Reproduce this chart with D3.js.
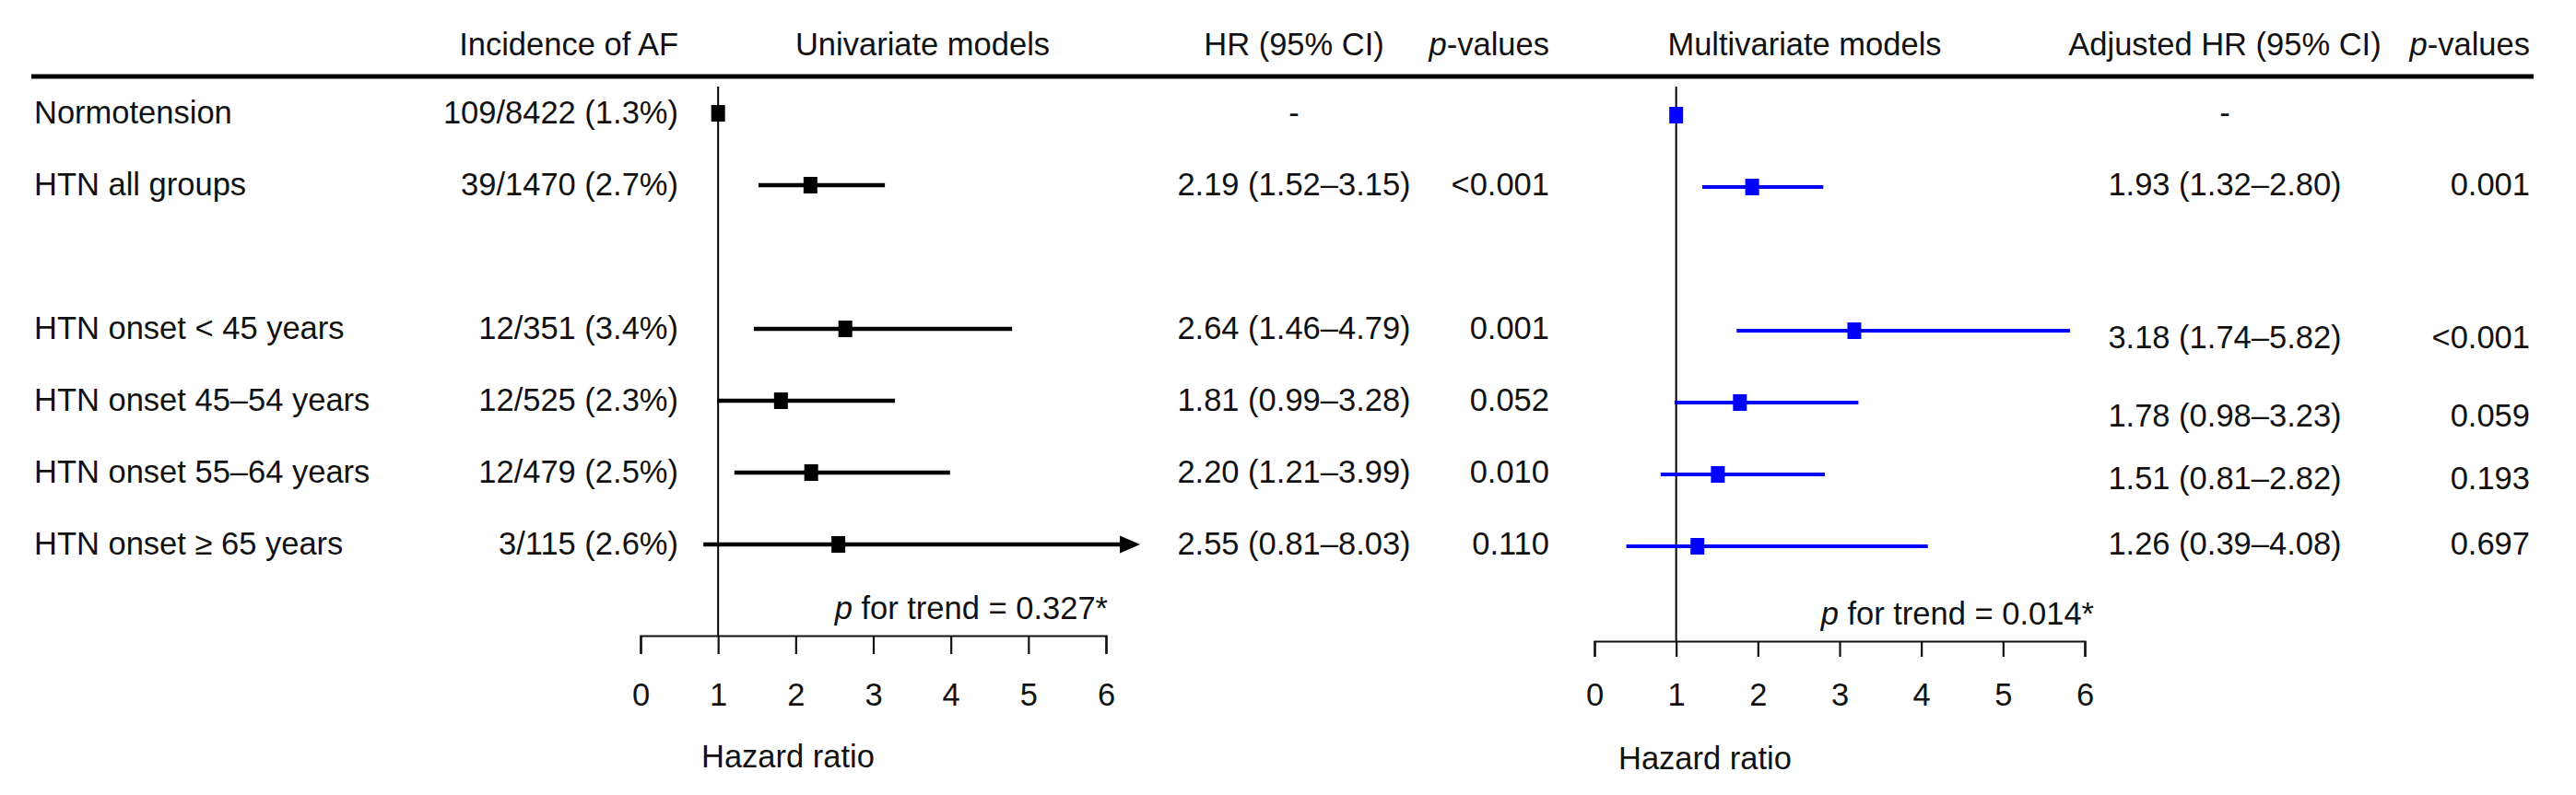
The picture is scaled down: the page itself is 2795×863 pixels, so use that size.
<!DOCTYPE html>
<html>
<head>
<meta charset="utf-8">
<script src="https://cdn.jsdelivr.net/npm/d3@7"></script>
<style>
  html, body { margin: 0; padding: 0; background: #fff; }
  text { font-family: "Liberation Sans", Arial, sans-serif; fill: #111; }
</style>
</head>
<body>
<div id="forest"></div>
<script>
// rows of the table
const categories = ['Normotension', 'HTN all groups', 'HTN onset < 45 years', 'HTN onset 45–54 years', 'HTN onset 55–64 years', 'HTN onset ≥ 65 years'];
const incidence = ['109/8422 (1.3%)', '39/1470 (2.7%)', '12/351 (3.4%)', '12/525 (2.3%)', '12/479 (2.5%)', '3/115 (2.6%)'];

// univariate models
const uniHR = [1, 2.19, 2.64, 1.81, 2.20, 2.55];
const uniLo = [null, 1.52, 1.46, 0.99, 1.21, 0.81];
const uniHi = [null, 3.15, 4.79, 3.28, 3.99, 8.03];
const uniP = ['', '<0.001', '0.001', '0.052', '0.010', '0.110'];

// multivariate models
const adjHR = [1, 1.93, 3.18, 1.78, 1.51, 1.26];
const adjLo = [null, 1.32, 1.74, 0.98, 0.81, 0.39];
const adjHi = [null, 2.80, 5.82, 3.23, 2.82, 4.08];
const adjP = ['', '0.001', '<0.001', '0.059', '0.193', '0.697'];

const hrTicks = [0, 1, 2, 3, 4, 5, 6];
const trendP = ['0.327*', '0.014*'];
const arrowTip = 6.44;   // where a CI that runs off the axis is drawn to

const width = 2795, height = 863;
const fs = 34.5;
const fmt = d3.format('.2f');

// a blank slot between "HTN all groups" and the onset groups
const slotKeys = [categories[0], categories[1], 'gap', ...categories.slice(2)];
const y = d3.scalePoint().domain(slotKeys).range([123, 591]);

const rows = categories.map((c, i) => ({
    name: c, inc: incidence[i],
    uni: {hr: uniHR[i], lo: uniLo[i], hi: uniHi[i], p: uniP[i]},
    adj: {hr: adjHR[i], lo: adjLo[i], hi: adjHi[i], p: adjP[i]}
}));

// the multivariate text column was nudged down a bit in the original
const adjTextNudge = [0, 0, 10, 17, 7, 0];

const panels = [
    {key: 'uni', range: [695, 1200], axisY: 690, tickLen: 20, color: '#000', markDy: 0,
     title: 'Univariate models', titleX: 1001, hrTitle: 'HR (95% CI)', hrX: 1404, pX: 1681,
     trend: trendP[0], trendX: 1202, trendY: 672, hazX: 761, hazY: 833, lw: 4.5, nudge: () => 0},
    {key: 'adj', range: [1730, 2262], axisY: 696, tickLen: 17, color: '#0000ff', markDy: 2,
     title: 'Multivariate models', titleX: 1958, hrTitle: 'Adjusted HR (95% CI)', hrX: 2414, pX: 2745,
     trend: trendP[1], trendX: 2272, trendY: 678, hazX: 1756, hazY: 835, lw: 3.8, nudge: i => adjTextNudge[i]}
];

const svg = d3.select('#forest')
    .append('svg')
    .attr('width', width)
    .attr('height', height)
    .style('font-size', fs + 'px');

// header
const headerY = 60;
svg.append('text').attr('x', 736).attr('y', headerY).attr('text-anchor', 'end').text('Incidence of AF');
svg.append('line')
    .attr('x1', 34).attr('x2', 2749)
    .attr('y1', 83).attr('y2', 83)
    .attr('stroke', '#000').attr('stroke-width', 5);

// row labels and incidence
const rowG = svg.append('g').selectAll('g').data(rows).join('g');
rowG.append('text')
    .attr('x', 37)
    .attr('y', d => y(d.name) + 11)
    .text(d => d.name);
rowG.append('text')
    .attr('x', 736)
    .attr('y', d => y(d.name) + 11)
    .attr('text-anchor', 'end')
    .text(d => d.inc);

panels.forEach(p => {
    const x = d3.scaleLinear().domain([0, 6]).range(p.range);
    const g = svg.append('g');

    // column headers
    g.append('text').attr('x', p.titleX).attr('y', headerY).attr('text-anchor', 'middle').text(p.title);
    g.append('text').attr('x', p.hrX).attr('y', headerY).attr('text-anchor', 'middle').text(p.hrTitle);
    const ph = g.append('text').attr('x', p.pX).attr('y', headerY).attr('text-anchor', 'end');
    ph.append('tspan').style('font-style', 'italic').text('p');
    ph.append('tspan').text('-values');

    // reference line at HR = 1
    g.append('line')
        .attr('x1', x(1)).attr('x2', x(1))
        .attr('y1', 94).attr('y2', p.axisY)
        .attr('stroke', '#000').attr('stroke-width', 2);

    // axis
    const axis = g.append('g')
        .attr('transform', `translate(0,${p.axisY})`)
        .call(d3.axisBottom(x)
            .tickValues(hrTicks)
            .tickFormat(d3.format('d'))
            .tickSize(p.tickLen)
            .tickSizeOuter(p.tickLen)
            .tickPadding(742 - p.axisY - p.tickLen));
    axis.attr('font-size', null).attr('font-family', null);
    axis.selectAll('path, line').attr('stroke', '#111').attr('stroke-width', 2.2);
    axis.selectAll('text').style('font-size', fs + 'px').attr('fill', '#111');

    g.append('text').attr('x', p.hazX).attr('y', p.hazY).text('Hazard ratio');

    const tr = g.append('text').attr('x', p.trendX).attr('y', p.trendY).attr('text-anchor', 'end');
    tr.append('tspan').style('font-style', 'italic').text('p');
    tr.append('tspan').text(' for trend = ' + p.trend);

    // CI lines
    const ci = rows.filter(r => r[p.key].lo != null);
    g.append('g').selectAll('line').data(ci).join('line')
        .attr('x1', d => x(d[p.key].lo))
        .attr('x2', d => d[p.key].hi > 6 ? x(arrowTip) - 18 : x(d[p.key].hi))
        .attr('y1', d => y(d.name) + p.markDy)
        .attr('y2', d => y(d.name) + p.markDy)
        .attr('stroke', p.color)
        .attr('stroke-width', p.lw);

    // arrowheads for CIs running past the axis
    g.append('g').selectAll('path').data(ci.filter(d => d[p.key].hi > 6)).join('path')
        .attr('d', d => {
            const tx = x(arrowTip), ty = y(d.name) + p.markDy;
            return `M${tx},${ty}L${tx - 22},${ty - 9.5}L${tx - 22},${ty + 9.5}Z`;
        })
        .attr('fill', p.color);

    // point estimates
    g.append('g').selectAll('rect').data(rows).join('rect')
        .attr('x', d => x(d[p.key].hr) - 7.5)
        .attr('y', d => y(d.name) + p.markDy - 9)
        .attr('width', 15)
        .attr('height', 18)
        .attr('fill', p.color);

    // HR text and p-values
    g.append('g').selectAll('text').data(rows).join('text')
        .attr('x', p.hrX)
        .attr('y', (d, i) => y(d.name) + 11 + p.nudge(i))
        .attr('text-anchor', 'middle')
        .text(d => d[p.key].lo == null ? '-'
            : `${fmt(d[p.key].hr)} (${fmt(d[p.key].lo)}–${fmt(d[p.key].hi)})`);
    g.append('g').selectAll('text').data(rows).join('text')
        .attr('x', p.pX)
        .attr('y', (d, i) => y(d.name) + 11 + p.nudge(i))
        .attr('text-anchor', 'end')
        .text(d => d[p.key].p);
});
</script>
</body>
</html>
